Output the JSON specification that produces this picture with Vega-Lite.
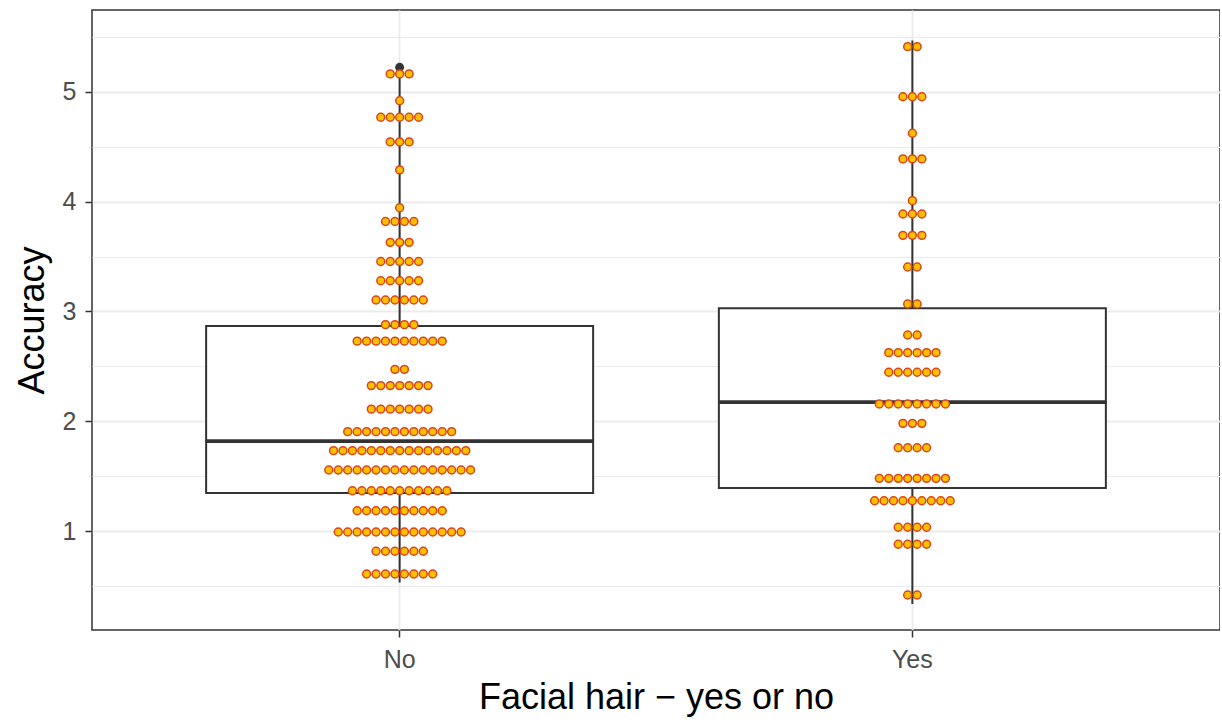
{
  "$schema": "https://vega.github.io/schema/vega-lite/v6.json",
  "width": 1128,
  "height": 620,
  "autosize": {"type": "none"},
  "padding": {"left": 92, "top": 10, "right": 0, "bottom": 93},
  "background": "white",
  "datasets": {
    "box": [
      {"g": "No", "lower": 0.53, "q1": 1.346, "median": 1.818, "q3": 2.868, "upper": 5.165},
      {"g": "Yes", "lower": 0.335, "q1": 1.392, "median": 2.175, "q3": 3.03, "upper": 5.47}
    ],
    "outliers": [
      {"g": "No", "y": 5.225}
    ],
    "dots": [
      {"g":"No","y":5.165},{"g":"No","y":5.165},{"g":"No","y":5.165},
      {"g":"No","y":4.92},
      {"g":"No","y":4.77},{"g":"No","y":4.77},{"g":"No","y":4.77},{"g":"No","y":4.77},{"g":"No","y":4.77},
      {"g":"No","y":4.545},{"g":"No","y":4.545},{"g":"No","y":4.545},
      {"g":"No","y":4.29},
      {"g":"No","y":3.945},
      {"g":"No","y":3.82},{"g":"No","y":3.82},{"g":"No","y":3.82},{"g":"No","y":3.82},
      {"g":"No","y":3.63},{"g":"No","y":3.63},{"g":"No","y":3.63},
      {"g":"No","y":3.455},{"g":"No","y":3.455},{"g":"No","y":3.455},{"g":"No","y":3.455},{"g":"No","y":3.455},
      {"g":"No","y":3.28},{"g":"No","y":3.28},{"g":"No","y":3.28},{"g":"No","y":3.28},{"g":"No","y":3.28},
      {"g":"No","y":3.105},{"g":"No","y":3.105},{"g":"No","y":3.105},{"g":"No","y":3.105},{"g":"No","y":3.105},{"g":"No","y":3.105},
      {"g":"No","y":2.88},{"g":"No","y":2.88},{"g":"No","y":2.88},{"g":"No","y":2.88},
      {"g":"No","y":2.73},{"g":"No","y":2.73},{"g":"No","y":2.73},{"g":"No","y":2.73},{"g":"No","y":2.73},{"g":"No","y":2.73},{"g":"No","y":2.73},{"g":"No","y":2.73},{"g":"No","y":2.73},{"g":"No","y":2.73},
      {"g":"No","y":2.473},{"g":"No","y":2.473},
      {"g":"No","y":2.325},{"g":"No","y":2.325},{"g":"No","y":2.325},{"g":"No","y":2.325},{"g":"No","y":2.325},{"g":"No","y":2.325},{"g":"No","y":2.325},
      {"g":"No","y":2.11},{"g":"No","y":2.11},{"g":"No","y":2.11},{"g":"No","y":2.11},{"g":"No","y":2.11},{"g":"No","y":2.11},{"g":"No","y":2.11},
      {"g":"No","y":1.905},{"g":"No","y":1.905},{"g":"No","y":1.905},{"g":"No","y":1.905},{"g":"No","y":1.905},{"g":"No","y":1.905},{"g":"No","y":1.905},{"g":"No","y":1.905},{"g":"No","y":1.905},{"g":"No","y":1.905},{"g":"No","y":1.905},{"g":"No","y":1.905},
      {"g":"No","y":1.732},{"g":"No","y":1.732},{"g":"No","y":1.732},{"g":"No","y":1.732},{"g":"No","y":1.732},{"g":"No","y":1.732},{"g":"No","y":1.732},{"g":"No","y":1.732},{"g":"No","y":1.732},{"g":"No","y":1.732},{"g":"No","y":1.732},{"g":"No","y":1.732},{"g":"No","y":1.732},{"g":"No","y":1.732},{"g":"No","y":1.732},
      {"g":"No","y":1.556},{"g":"No","y":1.556},{"g":"No","y":1.556},{"g":"No","y":1.556},{"g":"No","y":1.556},{"g":"No","y":1.556},{"g":"No","y":1.556},{"g":"No","y":1.556},{"g":"No","y":1.556},{"g":"No","y":1.556},{"g":"No","y":1.556},{"g":"No","y":1.556},{"g":"No","y":1.556},{"g":"No","y":1.556},{"g":"No","y":1.556},{"g":"No","y":1.556},
      {"g":"No","y":1.367},{"g":"No","y":1.367},{"g":"No","y":1.367},{"g":"No","y":1.367},{"g":"No","y":1.367},{"g":"No","y":1.367},{"g":"No","y":1.367},{"g":"No","y":1.367},{"g":"No","y":1.367},{"g":"No","y":1.367},{"g":"No","y":1.367},
      {"g":"No","y":1.185},{"g":"No","y":1.185},{"g":"No","y":1.185},{"g":"No","y":1.185},{"g":"No","y":1.185},{"g":"No","y":1.185},{"g":"No","y":1.185},{"g":"No","y":1.185},{"g":"No","y":1.185},{"g":"No","y":1.185},
      {"g":"No","y":0.991},{"g":"No","y":0.991},{"g":"No","y":0.991},{"g":"No","y":0.991},{"g":"No","y":0.991},{"g":"No","y":0.991},{"g":"No","y":0.991},{"g":"No","y":0.991},{"g":"No","y":0.991},{"g":"No","y":0.991},{"g":"No","y":0.991},{"g":"No","y":0.991},{"g":"No","y":0.991},{"g":"No","y":0.991},
      {"g":"No","y":0.815},{"g":"No","y":0.815},{"g":"No","y":0.815},{"g":"No","y":0.815},{"g":"No","y":0.815},{"g":"No","y":0.815},
      {"g":"No","y":0.608},{"g":"No","y":0.608},{"g":"No","y":0.608},{"g":"No","y":0.608},{"g":"No","y":0.608},{"g":"No","y":0.608},{"g":"No","y":0.608},{"g":"No","y":0.608},
      {"g":"Yes","y":5.413},{"g":"Yes","y":5.413},
      {"g":"Yes","y":4.957},{"g":"Yes","y":4.957},{"g":"Yes","y":4.957},
      {"g":"Yes","y":4.624},
      {"g":"Yes","y":4.39},{"g":"Yes","y":4.39},{"g":"Yes","y":4.39},
      {"g":"Yes","y":4.01},
      {"g":"Yes","y":3.888},{"g":"Yes","y":3.888},{"g":"Yes","y":3.888},
      {"g":"Yes","y":3.694},{"g":"Yes","y":3.694},{"g":"Yes","y":3.694},
      {"g":"Yes","y":3.405},{"g":"Yes","y":3.405},
      {"g":"Yes","y":3.068},{"g":"Yes","y":3.068},
      {"g":"Yes","y":2.786},{"g":"Yes","y":2.786},
      {"g":"Yes","y":2.625},{"g":"Yes","y":2.625},{"g":"Yes","y":2.625},{"g":"Yes","y":2.625},{"g":"Yes","y":2.625},{"g":"Yes","y":2.625},
      {"g":"Yes","y":2.446},{"g":"Yes","y":2.446},{"g":"Yes","y":2.446},{"g":"Yes","y":2.446},{"g":"Yes","y":2.446},{"g":"Yes","y":2.446},
      {"g":"Yes","y":2.157},{"g":"Yes","y":2.157},{"g":"Yes","y":2.157},{"g":"Yes","y":2.157},{"g":"Yes","y":2.157},{"g":"Yes","y":2.157},{"g":"Yes","y":2.157},{"g":"Yes","y":2.157},
      {"g":"Yes","y":1.981},{"g":"Yes","y":1.981},{"g":"Yes","y":1.981},
      {"g":"Yes","y":1.759},{"g":"Yes","y":1.759},{"g":"Yes","y":1.759},{"g":"Yes","y":1.759},
      {"g":"Yes","y":1.48},{"g":"Yes","y":1.48},{"g":"Yes","y":1.48},{"g":"Yes","y":1.48},{"g":"Yes","y":1.48},{"g":"Yes","y":1.48},{"g":"Yes","y":1.48},{"g":"Yes","y":1.48},
      {"g":"Yes","y":1.276},{"g":"Yes","y":1.276},{"g":"Yes","y":1.276},{"g":"Yes","y":1.276},{"g":"Yes","y":1.276},{"g":"Yes","y":1.276},{"g":"Yes","y":1.276},{"g":"Yes","y":1.276},{"g":"Yes","y":1.276},
      {"g":"Yes","y":1.034},{"g":"Yes","y":1.034},{"g":"Yes","y":1.034},{"g":"Yes","y":1.034},
      {"g":"Yes","y":0.879},{"g":"Yes","y":0.879},{"g":"Yes","y":0.879},{"g":"Yes","y":0.879},
      {"g":"Yes","y":0.417},{"g":"Yes","y":0.417}
    ]
  },
  "resolve": {"axis": {"y": "independent"}},
  "encoding": {
    "x": {"field": "g", "type": "nominal",
          "axis": {"title": "Facial hair − yes or no", "grid": true, "gridWidth": 1.8, "bandPosition": 0.5, "labelAngle": 0, "labelPadding": 10, "titlePadding": 8}}
  },
  "layer": [
    {
      "data": {"name": "box"},
      "mark": {"type": "rule", "color": "#333333", "strokeWidth": 2},
      "encoding": {
        "y": {"field": "lower", "type": "quantitative",
              "scale": {"domain": [0.098, 5.747], "nice": false, "zero": false},
              "axis": {"orient": "right", "values": [0.5, 1.5, 2.5, 3.5, 4.5, 5.5], "grid": true, "gridWidth": 1, "labels": false, "ticks": false, "domain": false, "title": null}},
        "y2": {"field": "upper"}
      }
    },
    {
      "data": {"name": "box"},
      "mark": {"type": "bar", "fill": "white", "stroke": "#333333", "strokeWidth": 2, "width": 387},
      "encoding": {
        "y": {"field": "q1", "type": "quantitative", "axis": null},
        "y2": {"field": "q3"}
      }
    },
    {
      "data": {"name": "box"},
      "mark": {"type": "tick", "orient": "horizontal", "color": "#333333", "size": 388, "thickness": 3.8, "opacity": 1},
      "encoding": {
        "y": {"field": "median", "type": "quantitative", "axis": null}
      }
    },
    {
      "data": {"name": "outliers"},
      "mark": {"type": "point", "shape": "circle", "filled": true, "color": "#333333", "size": 80, "opacity": 1},
      "encoding": {
        "y": {"field": "y", "type": "quantitative", "axis": null}
      }
    },
    {
      "data": {"name": "dots"},
      "transform": [
        {"window": [{"op": "row_number", "as": "k"}], "groupby": ["g", "y"]},
        {"joinaggregate": [{"op": "count", "as": "n"}], "groupby": ["g", "y"]},
        {"calculate": "datum.k - (datum.n + 1) / 2", "as": "off"}
      ],
      "mark": {"type": "point", "shape": "circle", "filled": true, "fill": "#FFC000", "stroke": "#D9441A", "strokeWidth": 1.5, "size": 62, "opacity": 1},
      "encoding": {
        "xOffset": {"field": "off", "type": "quantitative", "scale": {"domain": [-20, 20], "range": [67.4, 445.4]}},
        "y": {"field": "y", "type": "quantitative",
              "scale": {"domain": [0.098, 5.747], "nice": false, "zero": false},
              "axis": {"values": [1, 2, 3, 4, 5], "grid": true, "gridWidth": 1.8, "title": "Accuracy", "labelPadding": 9, "titlePadding": 11}}
      }
    }
  ],
  "config": {
    "view": {"stroke": "#333333", "strokeWidth": 1.5},
    "scale": {"bandPaddingInner": 0, "bandPaddingOuter": 0.1},
    "axis": {
      "domain": false,
      "gridColor": "#EBEBEB",
      "tickColor": "#333333",
      "tickSize": 7,
      "tickWidth": 1.5,
      "labelColor": "#4D4D4D",
      "labelFont": "Liberation Sans",
      "labelFontSize": 25,
      "titleFont": "Liberation Sans",
      "titleFontSize": 36,
      "titleFontWeight": "normal",
      "titleColor": "#000000"
    }
  }
}
